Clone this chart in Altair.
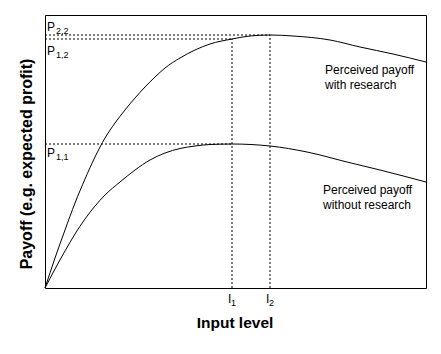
import altair as alt
import pandas as pd

# Perceived payoff curves (input level -> payoff)
upper_input = [0, 10, 20, 30, 40, 50, 60, 70, 80, 90, 100, 110, 120, 135, 150, 165, 187, 205, 225, 248, 285, 315, 348, 381]
upper_payoff = [0, 30, 58, 85, 109, 131, 150, 165, 178, 190, 201, 211, 220, 230, 238, 244, 249, 252, 253, 252, 248, 241, 234, 226]
lower_input = [0, 10, 20, 30, 40, 50, 60, 75, 90, 105, 120, 135, 150, 165, 187, 225, 262, 302, 335, 381]
lower_payoff = [0, 19, 37, 54, 69, 82, 93, 106, 118, 128, 135, 139.5, 142, 143.5, 144, 142, 136, 126, 118, 106]

# Reference levels
I1, I2 = 187, 225
P11, P12, P22 = 144, 249, 253

curve_names = ["with", "without"]
upper_text = ["Perceived payoff", "with research"]
lower_text = ["Perceived payoff", "without research"]
x_title = "Input level"
y_title = "Payoff (e.g. expected profit)"

X_MAX, Y_MAX = 381, 273
FONT = "Liberation Sans"

xs = alt.Scale(domain=[0, X_MAX], nice=False, zero=False)
ys = alt.Scale(domain=[0, Y_MAX], nice=False, zero=False)

curves = pd.concat([
    pd.DataFrame({"x": upper_input, "y": upper_payoff, "c": curve_names[0]}),
    pd.DataFrame({"x": lower_input, "y": lower_payoff, "c": curve_names[1]}),
])

line = alt.Chart(curves).mark_line(color="black", strokeWidth=1, interpolate="monotone").encode(
    x=alt.X("x:Q", scale=xs, axis=None),
    y=alt.Y("y:Q", scale=ys, axis=None),
    detail="c:N",
)

# dotted guide lines
guides = pd.DataFrame({
    "x": [0, 0, 0, I1, I2],
    "x2": [I2, I1, I1, I1, I2],
    "y": [P22, P12, P11, 0, 0],
    "y2": [P22, P12, P11, P12, P22],
})
rules = alt.Chart(guides).mark_rule(color="black", strokeWidth=1, strokeDash=[2, 2]).encode(
    x=alt.X("x:Q", scale=xs), x2="x2:Q",
    y=alt.Y("y:Q", scale=ys), y2="y2:Q",
)


def txt(x, y, t, size=12, dx=0, dy=0, bold=False, align="left", baseline="alphabetic", angle=0):
    df = pd.DataFrame({"x": [x], "y": [y], "t": [t]})
    kw = dict(fontSize=size, font=FONT, dx=dx, dy=dy, align=align, baseline=baseline, color="black")
    if bold:
        kw["fontWeight"] = "bold"
    if angle:
        kw["angle"] = angle
    return alt.Chart(df).mark_text(**kw).encode(
        x=alt.X("x:Q", scale=xs), y=alt.Y("y:Q", scale=ys), text="t:N"
    )


labels = [
    # P labels with subscripts
    txt(0, P22, "P", dx=2, dy=-4), txt(0, P22, "2,2", size=9, dx=11, dy=-1),
    txt(0, P12, "P", dx=2, dy=16), txt(0, P12, "1,2", size=9, dx=11, dy=19),
    txt(0, P11, "P", dx=2, dy=13), txt(0, P11, "1,1", size=9, dx=11, dy=16),
    # I labels
    txt(I1, 0, "I", dx=-4, dy=15), txt(I1, 0, "1", size=9, dx=-1, dy=18),
    txt(I2, 0, "I", dx=-4, dy=15), txt(I2, 0, "2", size=9, dx=-1, dy=18),
    # curve descriptions
    txt(280, 214, upper_text[0]), txt(280, 199, upper_text[1]),
    txt(278, 94, lower_text[0]), txt(278, 79, lower_text[1]),
    # axis titles
    txt(190, -35, x_title, size=15.5, bold=True, align="center", baseline="middle"),
    txt(-18, 124, y_title, size=16, bold=True, align="center", baseline="middle", angle=270),
]

chart = alt.layer(line, rules, *labels).properties(
    width=X_MAX, height=Y_MAX,
    autosize=alt.AutoSizeParams(type="none"),
    padding={"left": 45, "top": 15, "right": 15, "bottom": 66},
    background="white",
).configure_view(stroke="black", strokeWidth=1)

chart.save("out.html", embed_options={"renderer": "svg", "actions": False})
